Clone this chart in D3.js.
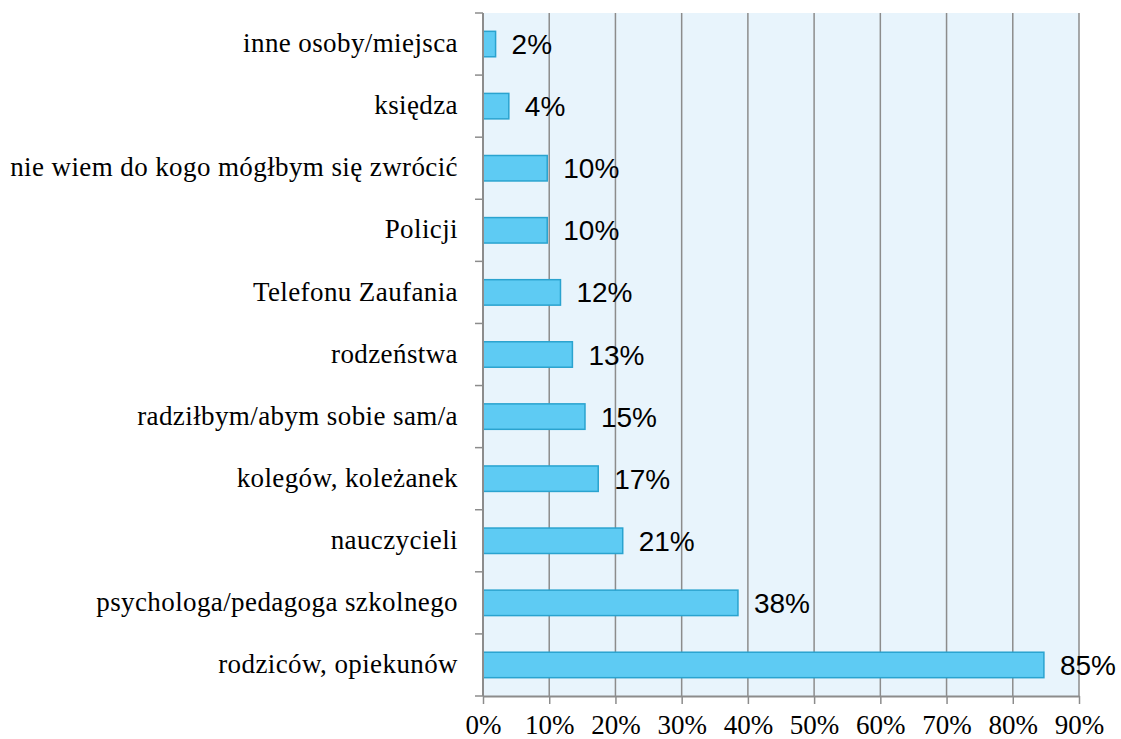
<!DOCTYPE html>
<html>
<head>
<meta charset="utf-8">
<script src="https://cdn.jsdelivr.net/npm/d3@7"></script>
<style>
  body { margin: 0; background: #fff; }
</style>
</head>
<body>
<svg width="1121" height="739"></svg>
<script>
// categories, top to bottom
var categories = [
  "inne osoby/miejsca",
  "księdza",
  "nie wiem do kogo mógłbym się zwrócić",
  "Policji",
  "Telefonu Zaufania",
  "rodzeństwa",
  "radziłbym/abym sobie sam/a",
  "kolegów, koleżanek",
  "nauczycieli",
  "psychologa/pedagoga szkolnego",
  "rodziców, opiekunów"
];
var values = [1.9, 3.9, 9.7, 9.7, 11.7, 13.5, 15.4, 17.4, 21.1, 38.5, 84.7];
var valueLabels = ["2%", "4%", "10%", "10%", "12%", "13%", "15%", "17%", "21%", "38%", "85%"];
var xTicks = [0, 10, 20, 30, 40, 50, 60, 70, 80, 90];

var svg = d3.select("svg"),
  margin = { top: 13, right: 42, bottom: 43, left: 483 },
  width = svg.attr("width") - margin.left - margin.right,
  height = svg.attr("height") - margin.top - margin.bottom;

var g = svg.append("g")
  .attr("transform", "translate(" + margin.left + "," + margin.top + ")");

var x = d3.scaleLinear().domain([0, 90]).range([0, width]);
var y = d3.scaleBand().domain(categories).range([0, height]).paddingInner(0.59).paddingOuter(0.295);

// plot background
g.append("rect")
  .attr("width", width)
  .attr("height", height)
  .attr("fill", "#e8f4fc");

// vertical gridlines
g.selectAll(".grid")
  .data(xTicks.slice(1))
  .enter()
  .append("line")
  .attr("x1", d => x(d))
  .attr("x2", d => x(d))
  .attr("y1", 0)
  .attr("y2", height)
  .attr("stroke", "#8c8c8c")
  .attr("stroke-width", 1.5);

// bars
g.selectAll(".bar")
  .data(values)
  .enter()
  .append("rect")
  .attr("x", 0)
  .attr("y", (d, i) => y(categories[i]))
  .attr("width", d => x(d))
  .attr("height", y.bandwidth())
  .attr("fill", "#5ecbf3")
  .attr("stroke", "#2aa3cf")
  .attr("stroke-width", 1.5);

// value labels
g.selectAll(".val")
  .data(values)
  .enter()
  .append("text")
  .attr("x", d => x(d) + 16)
  .attr("y", (d, i) => y(categories[i]) + y.bandwidth() / 2)
  .attr("dy", "0.36em")
  .style("font-family", "Liberation Sans, Arial, sans-serif")
  .style("font-size", "28px")
  .style("fill", "#000")
  .text((d, i) => valueLabels[i]);

// y axis: line + ticks at band boundaries
var bounds = d3.range(categories.length + 1).map(i => i * height / categories.length);
g.append("line")
  .attr("x1", 0).attr("x2", 0)
  .attr("y1", 0).attr("y2", height)
  .attr("stroke", "#8c8c8c").attr("stroke-width", 2);
g.selectAll(".ytick")
  .data(bounds)
  .enter()
  .append("line")
  .attr("x1", -8).attr("x2", 0)
  .attr("y1", d => d).attr("y2", d => d)
  .attr("stroke", "#8c8c8c").attr("stroke-width", 1.5);

// category labels
g.selectAll(".cat")
  .data(categories)
  .enter()
  .append("text")
  .attr("x", -25)
  .attr("y", d => y(d) + y.bandwidth() / 2)
  .attr("dy", "0.3em")
  .style("text-anchor", "end")
  .style("font-family", "Liberation Serif, Times New Roman, serif")
  .style("font-size", "27px")
  .style("letter-spacing", "0.4px")
  .style("fill", "#000")
  .text(d => d);

// x axis
var xAxis = g.append("g")
  .attr("transform", "translate(0," + height + ")")
  .call(d3.axisBottom(x).tickValues(xTicks).tickSize(8).tickSizeOuter(0).tickPadding(11).tickFormat(d => d + "%"));
xAxis.select(".domain").attr("stroke", "#8c8c8c").attr("stroke-width", 2);
xAxis.selectAll(".tick line").attr("stroke", "#8c8c8c").attr("stroke-width", 1.5);
xAxis.selectAll(".tick text")
  .style("font-family", "Liberation Serif, Times New Roman, serif")
  .style("font-size", "27px")
  .style("fill", "#000");
</script>
</body>
</html>
